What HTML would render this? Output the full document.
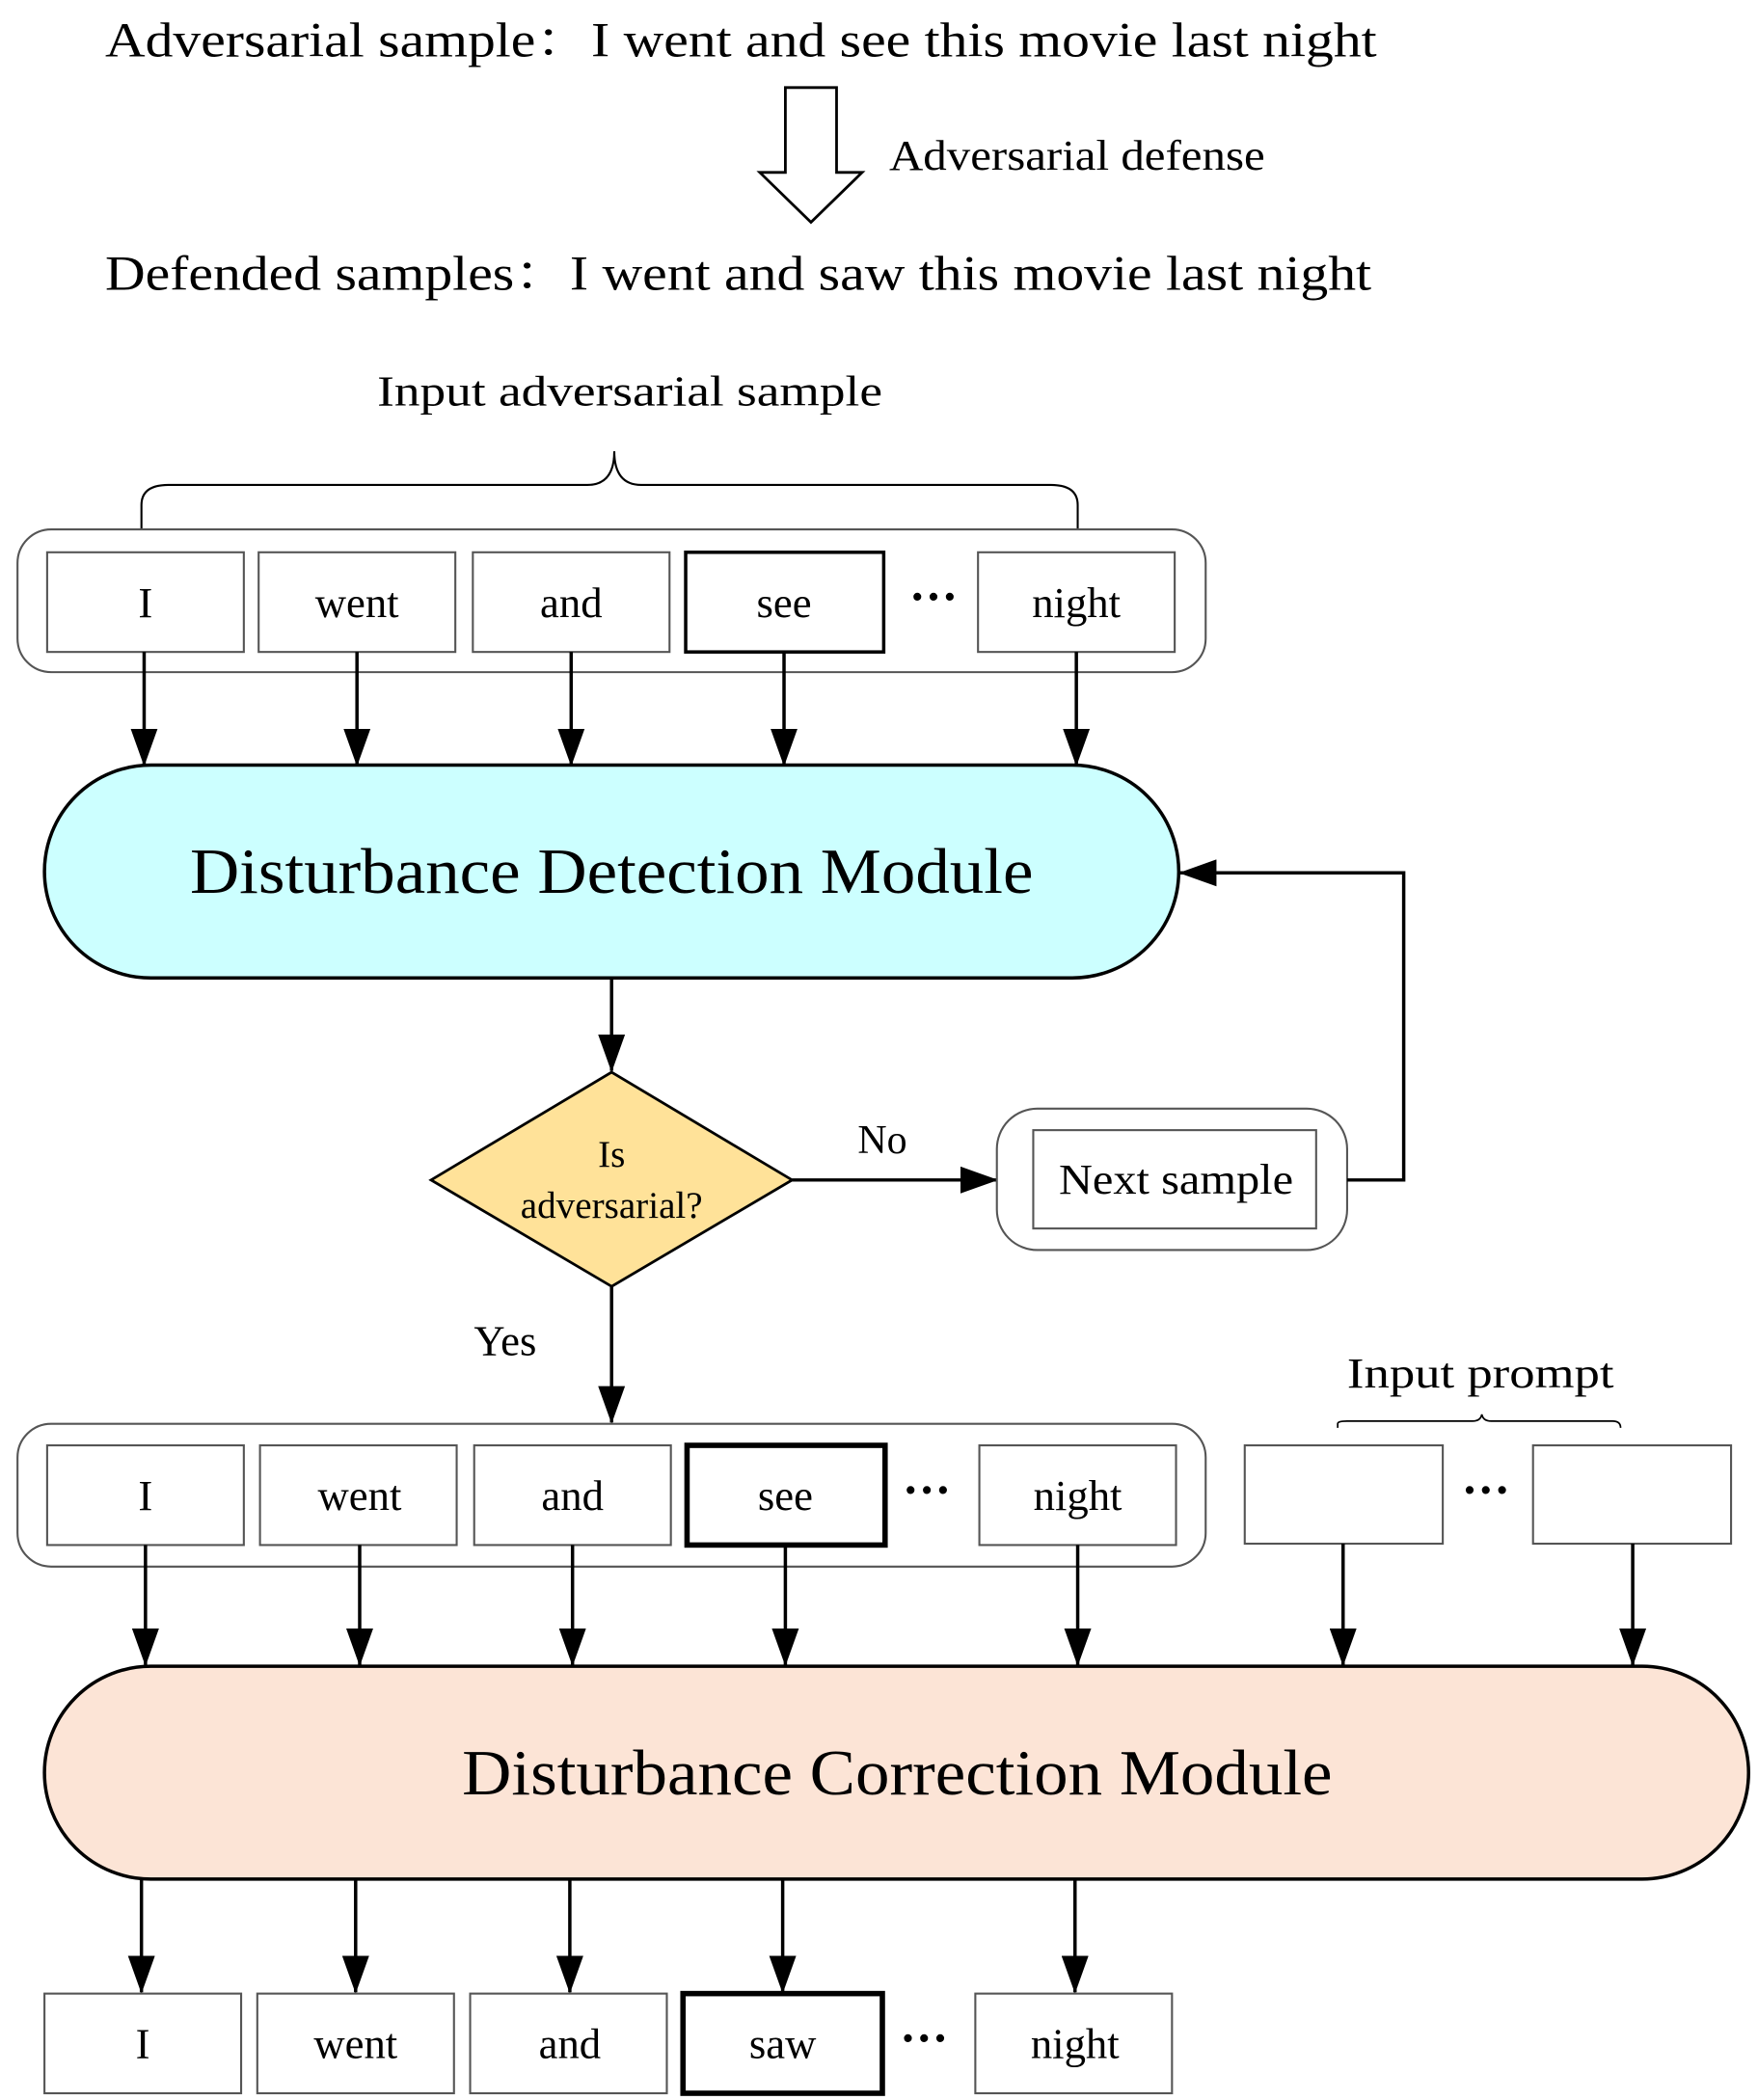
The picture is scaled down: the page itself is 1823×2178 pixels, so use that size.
<!DOCTYPE html>
<html><head><meta charset="utf-8"><style>
html,body{margin:0;padding:0;background:#fff;}
svg{display:block;}
text{font-family:"Liberation Serif","Noto Serif CJK SC",serif;fill:#000;}
</style></head><body>
<svg width="1823" height="2178" viewBox="0 0 1305 1559" preserveAspectRatio="none" xmlns="http://www.w3.org/2000/svg">
<defs>
<marker id="ah" markerWidth="28" markerHeight="20" refX="27" refY="10" orient="auto" markerUnits="userSpaceOnUse" viewBox="0 0 28 20">
<path d="M0,0 L28,10 L0,20 z" fill="#000"/>
</marker>
</defs>
<text x="78" y="42" font-size="36" textLength="944" lengthAdjust="spacingAndGlyphs">Adversarial sample：I went and see this movie last night</text>
<text x="660" y="126" font-size="32" textLength="279" lengthAdjust="spacingAndGlyphs">Adversarial defense</text>
<text x="78" y="215" font-size="36" textLength="940" lengthAdjust="spacingAndGlyphs">Defended samples：I went and saw this movie last night</text>
<text x="280" y="301" font-size="32" textLength="375" lengthAdjust="spacingAndGlyphs">Input adversarial sample</text>
<path d="M583,65 L621,65 L621,128 L640,128 L602,165 L564,128 L583,128 Z" fill="#fff" stroke="#000" stroke-width="2"/>
<path d="M105,397 L105,375 Q105,360 125,360 L436,360 Q456,360 456,335 Q456,360 476,360 L780,360 Q800,360 800,375 L800,397" fill="none" stroke="#000" stroke-width="1.5"/>
<rect x="13" y="393" width="882" height="106" rx="25" fill="#fff" stroke="#555" stroke-width="1.5"/>
<g fill="#fff" stroke="#555" stroke-width="1.5">
<rect x="35" y="410" width="146" height="74"/>
<rect x="192" y="410" width="146" height="74"/>
<rect x="351" y="410" width="146" height="74"/>
<rect x="726" y="410" width="146" height="74"/>
</g>
<rect x="509" y="410" width="147" height="74" fill="#fff" stroke="#000" stroke-width="2.5"/>
<g font-size="32" text-anchor="middle">
<text x="108" y="458">I</text><text x="265" y="458">went</text><text x="424" y="458">and</text><text x="582" y="458">see</text><text x="799" y="458">night</text>
<text x="693" y="455" font-weight="bold" font-size="36">···</text>
</g>
<g stroke="#000" stroke-width="2.5" marker-end="url(#ah)">
<line x1="107" y1="484" x2="107" y2="568"/><line x1="265" y1="484" x2="265" y2="568"/>
<line x1="424" y1="484" x2="424" y2="568"/><line x1="582" y1="484" x2="582" y2="568"/>
<line x1="799" y1="484" x2="799" y2="568"/>
</g>
<rect x="33" y="568" width="842" height="158" rx="79" fill="#ccffff" stroke="#000" stroke-width="2.5"/>
<text x="141" y="663" font-size="48" textLength="626" lengthAdjust="spacingAndGlyphs">Disturbance Detection Module</text>
<line x1="454" y1="726" x2="454" y2="795" stroke="#000" stroke-width="2.5" marker-end="url(#ah)"/>
<polygon points="454,796 588,876 454,955 320,876" fill="#ffe299" stroke="#000" stroke-width="2"/>
<text x="454" y="866" font-size="28" text-anchor="middle">Is</text>
<text x="454" y="904" font-size="28" text-anchor="middle">adversarial?</text>
<line x1="588" y1="876" x2="740" y2="876" stroke="#000" stroke-width="2.5" marker-end="url(#ah)"/>
<text x="655" y="856" font-size="30" text-anchor="middle">No</text>
<rect x="740" y="823" width="260" height="105" rx="30" fill="#fff" stroke="#555" stroke-width="1.5"/>
<rect x="767" y="839" width="210" height="73" fill="#fff" stroke="#555" stroke-width="1.5"/>
<text x="786" y="886" font-size="32" textLength="174" lengthAdjust="spacingAndGlyphs">Next sample</text>
<polyline points="1000,876 1042,876 1042,648 876,648" fill="none" stroke="#000" stroke-width="2.5" marker-end="url(#ah)"/>
<line x1="454" y1="955" x2="454" y2="1056" stroke="#000" stroke-width="2.5" marker-end="url(#ah)"/>
<text x="375" y="1006" font-size="32" text-anchor="middle">Yes</text>
<rect x="13" y="1057" width="882" height="106" rx="25" fill="#fff" stroke="#555" stroke-width="1.5"/>
<g fill="#fff" stroke="#555" stroke-width="1.5">
<rect x="35" y="1073" width="146" height="74"/>
<rect x="193" y="1073" width="146" height="74"/>
<rect x="352" y="1073" width="146" height="74"/>
<rect x="727" y="1073" width="146" height="74"/>
<rect x="924" y="1073" width="147" height="73"/>
<rect x="1138" y="1073" width="147" height="73"/>
</g>
<rect x="510" y="1073" width="147" height="74" fill="#fff" stroke="#000" stroke-width="4"/>
<g font-size="32" text-anchor="middle">
<text x="108" y="1121">I</text><text x="267" y="1121">went</text><text x="425" y="1121">and</text><text x="583" y="1121">see</text><text x="800" y="1121">night</text>
<text x="688" y="1118" font-weight="bold" font-size="36">···</text><text x="1103" y="1118" font-weight="bold" font-size="36">···</text>
</g>
<text x="1000" y="1030" font-size="32" textLength="198" lengthAdjust="spacingAndGlyphs">Input prompt</text>
<path d="M993,1060 L993,1057 Q993,1055 1000,1055 L1093,1055 Q1099,1055 1100,1050 Q1101,1055 1107,1055 L1197,1055 Q1203,1055 1203,1060" fill="none" stroke="#000" stroke-width="1.2"/>
<g stroke="#000" stroke-width="2.5" marker-end="url(#ah)">
<line x1="108" y1="1147" x2="108" y2="1236"/><line x1="267" y1="1147" x2="267" y2="1236"/>
<line x1="425" y1="1147" x2="425" y2="1236"/><line x1="583" y1="1147" x2="583" y2="1236"/>
<line x1="800" y1="1147" x2="800" y2="1236"/><line x1="997" y1="1146" x2="997" y2="1236"/>
<line x1="1212" y1="1146" x2="1212" y2="1236"/>
</g>
<rect x="33" y="1237" width="1265" height="158" rx="79" fill="#fce4d6" stroke="#000" stroke-width="2.5"/>
<text x="343" y="1332" font-size="48" textLength="646" lengthAdjust="spacingAndGlyphs">Disturbance Correction Module</text>
<g stroke="#000" stroke-width="2.5" marker-end="url(#ah)">
<line x1="105" y1="1395" x2="105" y2="1479"/><line x1="264" y1="1395" x2="264" y2="1479"/>
<line x1="423" y1="1395" x2="423" y2="1479"/><line x1="581" y1="1395" x2="581" y2="1479"/>
<line x1="798" y1="1395" x2="798" y2="1479"/>
</g>
<g fill="#fff" stroke="#555" stroke-width="1.5">
<rect x="33" y="1480" width="146" height="74"/>
<rect x="191" y="1480" width="146" height="74"/>
<rect x="349" y="1480" width="146" height="74"/>
<rect x="724" y="1480" width="146" height="74"/>
</g>
<rect x="507" y="1480" width="148" height="74" fill="#fff" stroke="#000" stroke-width="4"/>
<g font-size="32" text-anchor="middle">
<text x="106" y="1528">I</text><text x="264" y="1528">went</text><text x="423" y="1528">and</text><text x="581" y="1528">saw</text><text x="798" y="1528">night</text>
<text x="686" y="1525" font-weight="bold" font-size="36">···</text>
</g>
</svg>
</body></html>
